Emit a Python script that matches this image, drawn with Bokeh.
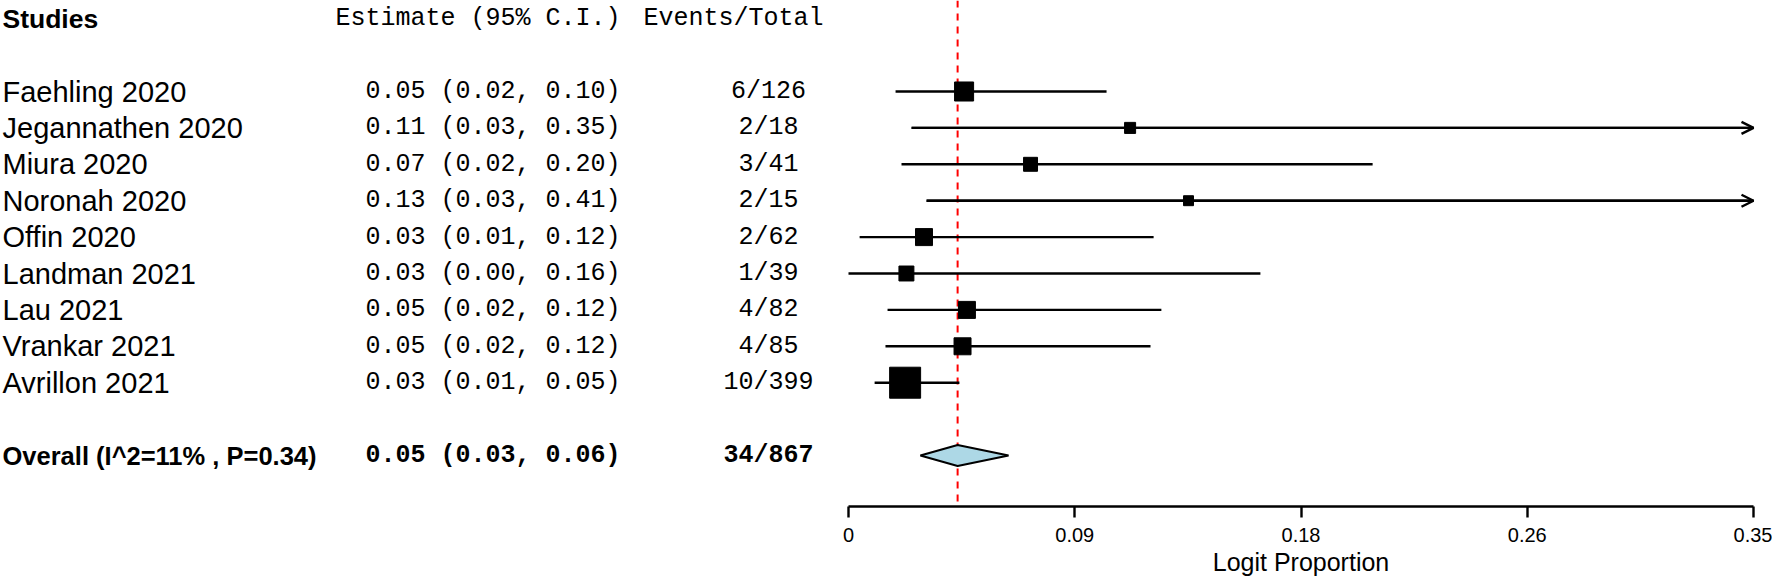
from bokeh.plotting import figure
from bokeh.models import (Range1d, LinearAxis, FixedTicker, Span, Title, Arrow,
                          OpenHead, ColumnDataSource)
from bokeh.core.properties import value
from bokeh.embed import file_html
from bokeh.resources import INLINE

# ---------------- data ----------------
studies = ["Faehling  2020", "Jegannathen  2020", "Miura  2020", "Noronah  2020",
           "Offin  2020", "Landman  2021", "Lau  2021", "Vrankar  2021", "Avrillon  2021"]
est_text = ["0.05 (0.02, 0.10)", "0.11 (0.03, 0.35)", "0.07 (0.02, 0.20)",
            "0.13 (0.03, 0.41)", "0.03 (0.01, 0.12)", "0.03 (0.00, 0.16)",
            "0.05 (0.02, 0.12)", "0.05 (0.02, 0.12)", "0.03 (0.01, 0.05)"]
events_text = ["6/126", "2/18", "3/41", "2/15", "2/62", "1/39", "4/82", "4/85", "10/399"]
est = [0.0447, 0.1089, 0.0704, 0.1315, 0.0292, 0.0224, 0.0458, 0.0441, 0.0219]
lower = [0.0182, 0.0244, 0.0205, 0.0302, 0.0043, 0.0000, 0.0151, 0.0143, 0.0101]
upper = [0.0998, 0.3520, 0.2027, 0.4100, 0.1180, 0.1593, 0.1210, 0.1168, 0.0429]
weights = [12.8, 4.3, 6.9, 3.5, 10.2, 7.9, 10.2, 10.2, 33.9]   # percent

overall_label = "Overall (I^2=11% , P=0.34)"
overall_est_text = "0.05 (0.03, 0.06)"
overall_events = "34/867"
overall_est, overall_lo, overall_hi = 0.0422, 0.0278, 0.0619

tick_values = [0.0, 0.0875, 0.175, 0.2625, 0.35]
tick_labels = ["0", "0.09", "0.18", "0.26", "0.35"]
x_label = "Logit Proportion"
headers = ["Studies", "Estimate (95% C.I.)", "Events/Total"]

# ---------------- layout helpers ----------------
W, H = 1772, 583
XMIN, XMAX = 0.0, 0.35
AX0, AX1 = 848, 1753          # canvas px of axis ends
k = (XMAX - XMIN) / (AX1 - AX0)
def px(cx):                      # canvas px -> data x
    return XMIN + (cx - AX0) * k

FRAME_H = 506
ROW1_PX, ROW_H = 91, 36.4
def row_px(cy):
    return 1 + (cy - ROW1_PX) / ROW_H

p = figure(width=W, height=H, output_backend="svg", toolbar_location=None,
           x_axis_type=None, y_axis_type=None,
           x_range=Range1d(px(0), px(W)), y_range=Range1d(row_px(FRAME_H), row_px(0)),
           min_border=0, min_border_bottom=H - FRAME_H)
p.outline_line_color = None
p.background_fill_color = "white"
p.border_fill_color = "white"

rows = list(range(1, len(studies) + 1))
OV_ROW = len(studies) + 2
HEAD_ROW = -1

SANS = value("Liberation Sans")
MONO = value("Liberation Mono")
LW = 2.4

# reference line
p.add_layout(Span(location=overall_est, dimension="height", line_color="red",
                  line_dash="7 6", line_width=2, level="underlay"))

# CI lines
hi_clip = [min(u, XMAX) for u in upper]
src = ColumnDataSource(dict(row=rows, est=est, lo=lower, hi=hi_clip,
                            size=[5.32 * w ** 0.5 for w in weights]))
p.segment(x0="lo", y0="row", x1="hi", y1="row", source=src,
          line_color="black", line_width=LW)
arr_rows = [r for r, u in zip(rows, upper) if u > XMAX]
arr_lo = [l for l, u in zip(lower, upper) if u > XMAX]
asrc = ColumnDataSource(dict(row=arr_rows, lo=arr_lo, hi=[XMAX] * len(arr_rows)))
p.add_layout(Arrow(end=OpenHead(size=12, line_width=LW, line_color="black"),
                   x_start="lo", y_start="row", x_end="hi", y_end="row",
                   line_width=LW, line_color="black", source=asrc))
p.scatter(x="est", y="row", size="size", marker="square", source=src,
          fill_color="black", line_color="black")

# diamond
hh = 10.5 / ROW_H
p.patch(x=[overall_lo, overall_est, overall_hi, overall_est],
        y=[OV_ROW, OV_ROW - hh, OV_ROW, OV_ROW + hh],
        fill_color="#add8e6", line_color="black", line_width=2)

# ---------------- text columns ----------------
X_NAME = px(2)
X_EST_R = px(620)
X_EVH = px(643)
X_EV_C = px(768)
NAME_FS = value("29px")
MONO_FS = value("25px")

p.text(x=[X_NAME] * len(rows), y=rows, text=studies, text_font=SANS,
       text_font_size=NAME_FS, text_baseline="middle", text_align="left")
p.text(x=[X_EST_R] * len(rows), y=rows, text=est_text, text_font=MONO,
       text_font_size=MONO_FS, text_baseline="middle", text_align="right")
p.text(x=[X_EV_C] * len(rows), y=rows, text=events_text, text_font=MONO,
       text_font_size=MONO_FS, text_baseline="middle", text_align="center")

# headers
p.text(x=[X_NAME], y=[HEAD_ROW], text=[headers[0]], text_font=SANS, text_font_style="bold",
       text_font_size=value("26.5px"), text_baseline="middle", text_align="left")
p.text(x=[X_EST_R], y=[HEAD_ROW], text=[headers[1]], text_font=MONO,
       text_font_size=MONO_FS, text_baseline="middle", text_align="right")
p.text(x=[X_EVH], y=[HEAD_ROW], text=[headers[2]], text_font=MONO,
       text_font_size=MONO_FS, text_baseline="middle", text_align="left")

# overall row
p.text(x=[X_NAME], y=[OV_ROW], text=[overall_label], text_font=SANS, text_font_style="bold",
       text_font_size=value("25.5px"), text_baseline="middle", text_align="left")
p.text(x=[X_EST_R], y=[OV_ROW], text=[overall_est_text], text_font=MONO, text_font_style="bold",
       text_font_size=MONO_FS, text_baseline="middle", text_align="right")
p.text(x=[X_EV_C], y=[OV_ROW], text=[overall_events], text_font=MONO, text_font_style="bold",
       text_font_size=MONO_FS, text_baseline="middle", text_align="center")

# ---------------- axis ----------------
ax = LinearAxis(bounds=(XMIN, XMAX), ticker=FixedTicker(ticks=tick_values),
                major_label_overrides={t: l for t, l in zip(tick_values, tick_labels)},
                axis_line_width=LW, axis_line_color="black",
                major_tick_line_width=LW, major_tick_line_color="black",
                major_tick_out=11, major_tick_in=0, minor_tick_out=0, minor_tick_in=0,
                major_label_text_font="Liberation Sans", major_label_text_font_size="20px",
                major_label_text_color="black", major_label_standoff=10)
p.add_layout(ax, "below")

XL_FS = 25
xl_half = 7.06 * XL_FS / 2
p.add_layout(Title(text=x_label, align="left", offset=(AX0 + AX1) / 2 - xl_half,
                   text_font="Liberation Sans", text_font_style="normal",
                   text_font_size=f"{XL_FS}px", text_color="black", standoff=2), "below")

open("out.html", "w").write(file_html(p, INLINE))
